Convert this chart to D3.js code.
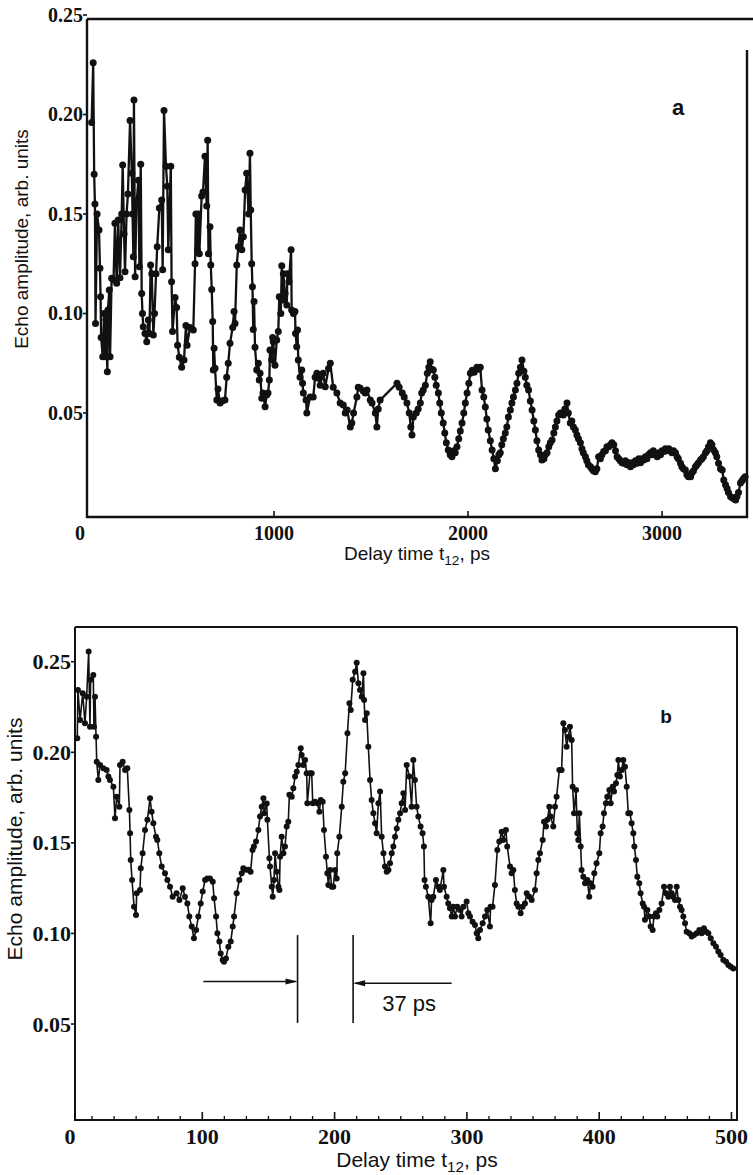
<!DOCTYPE html>
<html><head><meta charset="utf-8">
<script src="https://cdn.jsdelivr.net/npm/d3@7"></script>
<style>body{margin:0;background:#fff}svg{display:block}</style>
</head><body>
<svg id="c" width="753" height="1175"></svg>
<script>
// ---------- Panel a data (delay time ps, echo amplitude) ----------
const timeA = [60,68,73,77,80,88,98,103,106,109,117,124,130,134,141,144,151,155,163,173,180,189,197,206,215,220,227,232,240,247,258,267,271,275,278,284,291,301,306,313,318,322,326,335,344,352,358,364,370,378,384,392,398,409,421,426,433,443,450,455,468,472,477,490,498,503,512,524,536,546,552,567,584,593,597,605,610,615,627,634,644,653,658,662,670,674,679,684,687,691,696,705,711,722,732,747,756,764,773,787,794,799,808,816,825,834,842,851,859,869,876,880,885,889,893,897,902,911,919,924,928,937,943,954,962,969,976,979,988,993,996,1005,1014,1022,1027,1035,1040,1045,1048,1057,1066,1069,1077,1088,1091,1100,1108,1111,1117,1121,1125,1134,1143,1147,1151,1165,1169,1186,1202,1212,1221,1229,1238,1253,1264,1281,1290,1305,1324,1341,1357,1367,1377,1393,1401,1410,1427,1434,1444,1460,1470,1479,1496,1505,1522,1530,1537,1547,1634,1645,1661,1671,1685,1697,1705,1711,1718,1733,1743,1754,1761,1769,1780,1790,1798,1805,1813,1821,1829,1836,1847,1854,1862,1872,1880,1888,1898,1908,1917,1926,1934,1943,1952,1960,1969,1978,1986,1995,2004,2012,2022,2032,2046,2055,2063,2072,2081,2089,2097,2104,2115,2124,2133,2141,2151,2159,2166,2174,2182,2192,2200,2208,2218,2226,2234,2244,2252,2261,2270,2278,2288,2295,2303,2312,2321,2330,2339,2347,2355,2364,2373,2381,2391,2398,2407,2416,2424,2433,2442,2450,2458,2467,2476,2485,2491,2499,2510,2517,2527,2535,2543,2553,2561,2569,2579,2587,2594,2605,2612,2620,2631,2638,2646,2656,2664,2673,2682,2690,2699,2708,2716,2725,2734,2742,2751,2760,2768,2777,2785,2794,2802,2811,2819,2827,2837,2845,2852,2863,2871,2880,2889,2897,2906,2914,2922,2930,2940,2948,2955,2966,2975,2984,2992,3000,3009,3017,3025,3035,3043,3051,3059,3069,3077,3084,3095,3102,3110,3120,3128,3136,3147,3154,3162,3172,3180,3188,3198,3205,3213,3224,3231,3239,3249,3257,3266,3275,3282,3291,3301,3310,3318,3327,3335,3342,3353,3360,3368,3379,3386,3394,3404,3412,3419,3428];
const ampA = [.196,.226,.170,.155,.095,.150,.142,.1227,.1084,.088,.0783,.100,.0783,.097,.0707,.1018,.1118,.0783,.1177,.117,.1453,.1152,.147,.118,.150,.1746,.140,.121,.150,.160,.197,.1705,.150,.1285,.2073,.1185,.155,.167,.1235,.175,.110,.100,.0934,.090,.0858,.0967,.090,.1244,.120,.0892,.100,.120,.1336,.153,.157,.122,.202,.174,.164,.132,.174,.116,.091,.108,.103,.084,.078,.073,.0766,.094,.084,.093,.0917,.125,.150,.132,.150,.130,.159,.161,.179,.154,.187,.130,.1436,.1244,.112,.096,.0716,.0825,.0725,.0565,.062,.055,.056,.0565,.068,.075,.085,.093,.101,.095,.1244,.1336,.142,.132,.1386,.162,.1705,.150,.1805,.152,.125,.1134,.092,.106,.083,.0716,.075,.0666,.070,.0574,.060,.0532,.059,.060,.0666,.0817,.0766,.088,.0858,.074,.0867,.0909,.1084,.100,.124,.1068,.120,.110,.1043,.120,.116,.132,.1018,.100,.101,.090,.0833,.0917,.0766,.068,.0716,.065,.060,.0565,.050,.058,.058,.068,.070,.0674,.064,.070,.0632,.0724,.075,.063,.060,.055,.054,.050,.0515,.043,.045,.050,.058,.063,.0624,.061,.060,.0616,.0565,.055,.050,.043,.052,.0565,.065,.063,.060,.058,.055,.050,.043,.039,.048,.050,.052,.055,.060,.0616,.064,.070,.073,.0758,.072,.0716,.068,.064,.060,.055,.050,.045,.040,.035,.0314,.029,.028,.031,.030,.033,.037,.041,.045,.050,.055,.060,.065,.070,.0715,.0705,.073,.072,.073,.0616,.058,.053,.047,.0414,.036,.0314,.027,.022,.026,.029,.030,.034,.037,.040,.043,.048,.0515,.055,.058,.0616,.065,.070,.073,.0766,.071,.068,.064,.0616,.056,.0515,.046,.0414,.036,.0314,.029,.0264,.027,.029,.030,.033,.035,.0364,.040,.043,.046,.049,.050,.050,.049,.052,.055,.050,.045,.046,.043,.0414,.039,.037,.035,.032,.030,.028,.026,.024,.023,.022,.021,.0205,.022,.028,.027,.029,.0306,.031,.033,.033,.034,.035,.034,.031,.028,.027,.026,.025,.0247,.026,.024,.025,.023,.025,.024,.026,.0247,.027,.025,.027,.0264,.028,.027,.029,.030,.029,.031,.029,.028,.030,.029,.031,.0306,.032,.031,.032,.031,.030,.031,.030,.028,.027,.0247,.023,.022,.0214,.019,.018,.018,.020,.021,.023,.024,.025,.0264,.027,.028,.030,.031,.033,.035,.034,.0314,.030,.028,.0247,.022,.0214,.0163,.014,.012,.010,.008,.0075,.007,.0063,.008,.010,.0148,.016,.017,.018];

// ---------- Panel b data ----------
const timeB = [5.5,6,7.6,9.6,11.3,12.6,14.1,15.1,15.6,17.6,18.1,18.9,19.7,20.2,21.4,22.7,25.2,27.7,29,30.2,32.8,34,35.3,37.3,37.8,39.8,41.6,43.3,44.9,45.4,45.9,46.9,48.4,49.9,50.4,52.9,53.5,54.9,56.7,58.5,60.5,61.7,63,65,66,67.5,69.3,71.8,73.6,75.6,77.6,80.6,82.7,85.2,86.9,88.7,90.2,92,93.7,95.3,97,98.8,100.3,102.1,103.8,105.8,107.9,108.9,110.4,111.4,112.9,113.9,115.4,116.4,117.9,119.7,121.5,123,124,126,128,129.8,131,133,134.8,136.5,138,139,140.6,142.4,143.6,144.9,146.2,146.7,148.7,149.2,150.7,151.2,152.5,153.2,154.2,155,156.2,157.5,158.3,158.8,160,161.3,162.5,163.8,165,165.8,167.6,168.8,170.1,171.4,172.6,174.4,175.1,176.4,177.7,178.9,179.4,181.4,182.7,183.5,185.2,187,188.5,189.5,191,192,193.5,194.5,195.3,196.6,197.8,199,200.3,201.6,202,203.6,205.4,206.6,208,209.7,211.2,212.2,213.7,215.5,216.7,218,219.2,220.5,221.8,222.3,223,224.3,225.5,226.8,228,229.3,230.6,231.8,233.1,234.4,235.6,236.9,238.1,239.4,240.7,241.9,243.2,244.4,245.7,247,248.2,249.5,250.7,252,253.3,254.5,256.5,258.2,259.5,260.7,262,263.3,265,266.5,267.5,268,269,270.8,272.6,273.3,274.6,276.6,278.4,279.6,282.2,282.7,284.7,285.9,287.2,288.5,289.7,291,292.7,294.8,296,297.3,299.8,301.1,302.3,304.3,306.1,307.4,308.6,309.9,311.9,313.7,315.4,317.4,317.9,319.4,321.2,323,324.5,326.3,327.5,329.5,330.5,332.6,333.8,335.1,336.3,337.6,338.9,340.6,342.1,343.9,345.2,347.2,349,351.5,352.7,354,355.2,357.3,358.3,359.8,360.8,362.3,363.3,365.3,366.6,367.8,369.9,371.6,372.9,374.1,375.4,376.7,377.9,379.2,379.9,381,382.5,383.5,384.2,385,386,386.7,388,389.3,391,392.5,393.5,395,396.3,398,400.1,401.1,402.6,403.6,405.1,406.1,407.7,408.7,410.2,411.2,412.7,413.7,414.5,415.7,417,418.2,419.5,420.8,422,423.3,424.5,425.8,426.6,427.8,428.8,430.3,431.3,432.9,433.9,434.6,436.4,437.9,438.9,440.4,441.4,442.9,443.9,445.5,447.2,449,450.5,452.3,453.5,454.8,456,457.3,458.6,459.8,461.1,462.3,463.6,464.9,466.1,468.1,469.9,471.7,473.7,475.7,477.5,479.2,480.7,482.5,484.3,486.3,488.3,490.1,491.8,493.8,495.9,497.6,499.4,501.4];
const ampB = [.2077,.2344,.2178,.2326,.216,.2307,.2556,.2141,.240,.2427,.2141,.2307,.2086,.1948,.1847,.193,.1912,.1903,.1866,.1847,.181,.1636,.1755,.170,.193,.1948,.1902,.1912,.1682,.1553,.1406,.1295,.1148,.1102,.1222,.124,.136,.1443,.1571,.1627,.1746,.1672,.1608,.1534,.1516,.1443,.1369,.1332,.1295,.1258,.1203,.1222,.1185,.1249,.1203,.1166,.1093,.1038,.0973,.1019,.1093,.1166,.1231,.1295,.1304,.1304,.1286,.1194,.1093,.1001,.0955,.089,.0853,.0844,.0862,.0927,.0955,.1038,.1093,.1222,.1295,.1332,.136,.1351,.1351,.1340,.1461,.148,.1507,.1571,.1645,.170,.1746,.1663,.1718,.1627,.1415,.1369,.1258,.1203,.1295,.1443,.1341,.1258,.124,.1424,.1534,.1443,.148,.159,.1617,.1765,.1755,.1801,.1866,.1893,.193,.2022,.1985,.193,.1957,.1884,.1719,.1884,.1884,.1719,.1727,.1719,.1672,.1737,.1727,.1571,.1424,.1332,.1268,.135,.1258,.1258,.135,.1304,.1443,.1534,.170,.1838,.1884,.2105,.2271,.2234,.240,.2445,.2495,.2381,.2344,.2307,.2436,.2289,.2178,.2215,.2031,.1847,.1737,.1663,.1608,.1553,.1719,.1783,.1534,.1443,.1369,.1341,.135,.1387,.1443,.148,.1534,.158,.1627,.1663,.1719,.1774,.1682,.193,.1866,.170,.1957,.1847,.170,.1645,.159,.1553,.148,.1295,.1258,.1203,.1056,.1185,.1203,.1295,.1258,.124,.135,.1258,.1203,.1166,.1139,.1093,.1148,.1093,.1148,.113,.1093,.1148,.1176,.1111,.1093,.1065,.1047,.1001,.0973,.1019,.1056,.1093,.113,.1038,.1148,.1148,.1268,.1461,.1507,.1562,.1516,.1571,.148,.1369,.1332,.135,.124,.1166,.1148,.1111,.1148,.1166,.1222,.1203,.1185,.124,.1332,.1406,.1443,.1516,.1617,.159,.1627,.170,.1645,.159,.170,.1755,.1903,.1903,.216,.2123,.2031,.2086,.2141,.2068,.181,.1663,.1792,.1553,.1516,.1663,.148,.135,.1313,.1277,.1295,.1203,.1277,.1258,.1332,.1387,.1443,.1553,.159,.1663,.1719,.1755,.1792,.1719,.181,.1783,.1829,.1875,.1957,.1866,.1903,.1957,.192,.181,.1663,.1663,.1608,.1553,.148,.1406,.1313,.1277,.1222,.1166,.1148,.1075,.113,.1093,.1038,.1019,.1093,.1111,.1093,.113,.1166,.1258,.1222,.1203,.1258,.1222,.1203,.1185,.1258,.1185,.1148,.113,.1093,.1056,.101,.1001,.0983,.0992,.1001,.1019,.1001,.1029,.101,.1001,.0973,.0946,.0927,.09,.0881,.0853,.0844,.0826,.0816,.0807];

// ---------- Axis ticks ----------
const xTicksA = [0, 1000, 2000, 3000];
const yTicksA = [0.05, 0.10, 0.15, 0.20, 0.25];
const xTicksB = [0, 100, 200, 300, 400, 500];
const xMinorStepB = 100 / 6;
const yTicksB = [0.05, 0.10, 0.15, 0.20, 0.25];

// ---------- Annotation (panel b) ----------
const markT = [172, 214];
const markV = [0.0506, 0.0991];
const arrowFromT = [100.8, 288.5];
const arrowV = [0.0735, 0.0725];
const markLabel = "37 ps";

const svg = d3.select("#c");
const INK = "#111";
const serif = "'Liberation Serif','Times New Roman',serif";
const sans = "'Liberation Sans',Arial,Helvetica,sans-serif";

function drawPanel(o) {
  const g = svg.append("g");
  const x = o.x, y = o.y, f = o.frame;
  g.append("path")
    .attr("d", `M${f.l},${f.t} L${f.l},${f.b} L${f.r},${f.b} L${f.r},${f.rt} M${f.l},${f.t} L${f.tr},${f.t}`)
    .attr("fill", "none").attr("stroke", INK).attr("stroke-width", o.frameW);
  o.yTicks.forEach(v => {
    g.append("line").attr("x1", f.l - 4).attr("x2", f.l).attr("y1", y(v)).attr("y2", y(v))
      .attr("stroke", INK).attr("stroke-width", 1.6);
    g.append("text").attr("x", f.l - 4).attr("y", y(v)).attr("dy", "0.34em")
      .attr("text-anchor", "end").attr("font-family", serif).attr("font-weight", "bold")
      .attr("font-size", o.tickFont).attr("fill", INK).text(d3.format(".2f")(v));
  });
  o.xTicks.forEach(t => {
    if (t > 0) g.append("line").attr("x1", x(t)).attr("x2", x(t)).attr("y1", f.b).attr("y2", f.b - o.majorLen)
      .attr("stroke", INK).attr("stroke-width", 1.6);
    g.append("text").attr("x", x(t)).attr("y", f.b + o.xLabelOff)
      .attr("text-anchor", "middle").attr("font-family", serif).attr("font-weight", "bold")
      .attr("font-size", o.tickFont).attr("fill", INK).text(t);
  });
  if (o.minorStep) {
    d3.range(o.minorStep, x.domain()[1], o.minorStep).forEach(t => {
      if (Math.abs(t / 100 - Math.round(t / 100)) < 1e-6) return;
      g.append("line").attr("x1", x(t)).attr("x2", x(t)).attr("y1", f.b).attr("y2", f.b - 4)
        .attr("stroke", INK).attr("stroke-width", 1.3);
    });
  }
  const pts = o.t.map((t, i) => [t, o.v[i]]);
  g.append("path").datum(pts)
    .attr("d", d3.line().x(d => x(d[0])).y(d => y(d[1])))
    .attr("fill", "none").attr("stroke", INK).attr("stroke-width", o.lineW).attr("stroke-linejoin", "round");
  g.selectAll("circle.p").data(pts).join("circle")
    .attr("cx", d => x(d[0])).attr("cy", d => y(d[1])).attr("r", o.r).attr("fill", INK);
  g.append("text").attr("transform", `translate(${o.yTitle[0]},${o.yTitle[1]}) rotate(-90)`)
    .attr("text-anchor", "middle").attr("font-family", sans).attr("font-size", o.titleFont).attr("fill", INK)
    .text("Echo amplitude, arb. units");
  const xt = g.append("text").attr("x", o.xTitle[0]).attr("y", o.xTitle[1])
    .attr("text-anchor", "middle").attr("font-family", sans).attr("font-size", o.titleFont).attr("fill", INK);
  xt.append("tspan").text("Delay time t");
  xt.append("tspan").attr("font-size", o.titleFont * 0.72).attr("dy", 5).text("12");
  xt.append("tspan").attr("dy", -5).text(", ps");
  g.append("text").attr("x", o.letterPos[0]).attr("y", o.letterPos[1]).attr("text-anchor", "middle")
    .attr("font-family", sans).attr("font-weight", "bold").attr("font-size", o.letterFont).attr("fill", INK)
    .text(o.letter);
  return g;
}

// Panel a
const xA = d3.scaleLinear().domain([0, 3430]).range([80, 745.5]);
const yA = d3.scaleLinear().domain([0, 0.25]).range([512.5, 15]);
drawPanel({
  x: xA, y: yA, t: timeA, v: ampA,
  frame: {l: 87, r: 747, t: 19, b: 517, tr: 753, rt: 50},
  frameW: 2.4, yTicks: yTicksA, xTicks: xTicksA, majorLen: 6, xLabelOff: 23,
  tickFont: 20, r: 3.5, lineW: 2.3,
  yTitle: [28, 239], xTitle: [417, 560], titleFont: 19,
  letter: "a", letterPos: [678, 115], letterFont: 22
});

// Panel b
const xB = d3.scaleLinear().domain([0, 505]).range([70, 738.1]);
const yB = d3.scaleLinear().domain([0, 0.27]).range([1114.6, 625.5]);
const gB = drawPanel({
  x: xB, y: yB, t: timeB, v: ampB,
  frame: {l: 75, r: 737, t: 627, b: 1120, tr: 737, rt: 627},
  frameW: 2, yTicks: yTicksB, xTicks: xTicksB, minorStep: xMinorStepB, majorLen: 8, xLabelOff: 24,
  tickFont: 22, r: 3, lineW: 1.6,
  yTitle: [22, 839], xTitle: [417, 1167], titleFont: 21,
  letter: "b", letterPos: [666, 723], letterFont: 19
});

markT.forEach(t => {
  gB.append("line").attr("x1", xB(t)).attr("x2", xB(t)).attr("y1", yB(markV[0])).attr("y2", yB(markV[1]))
    .attr("stroke", INK).attr("stroke-width", 1.6);
});
arrowFromT.forEach((t0, i) => {
  const x0 = xB(t0), x1 = xB(markT[i]), yy = yB(arrowV[i]);
  const dir = x1 > x0 ? 1 : -1;
  gB.append("line").attr("x1", x0).attr("x2", x1 - dir * 2).attr("y1", yy).attr("y2", yy)
    .attr("stroke", INK).attr("stroke-width", 1.5);
  gB.append("path")
    .attr("d", `M${x1},${yy} L${x1 - dir * 12},${yy - 3} L${x1 - dir * 12},${yy + 3} Z`)
    .attr("fill", INK);
});
gB.append("text").attr("x", xB(236)).attr("y", yB(0.057))
  .attr("font-family", sans).attr("font-size", 22).attr("fill", INK).text(markLabel);
</script>
</body></html>
